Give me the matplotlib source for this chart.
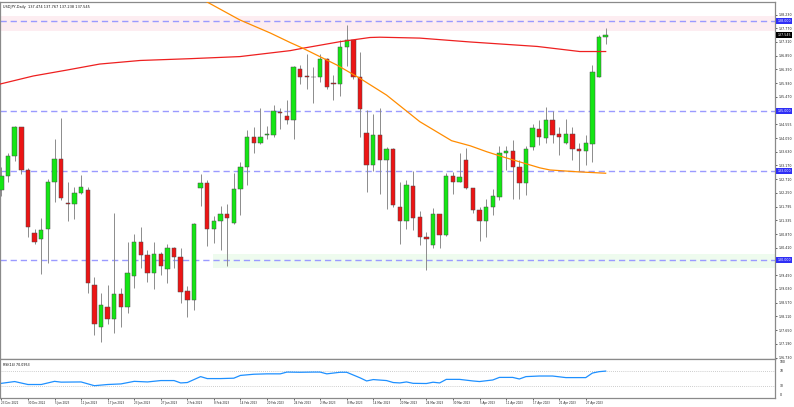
import numpy as np
import matplotlib
matplotlib.use('Agg')
import matplotlib.pyplot as plt
import matplotlib.transforms as mtrans

# daily bars, 23 Dec 2022 .. 2 May 2023
opens = [132.35, 132.83, 133.49, 134.45, 133.02, 130.92, 130.69, 131.03, 132.63, 133.39,
         131.90, 131.88, 132.24, 132.35, 129.16, 127.74, 128.43, 128.03, 128.86, 128.41,
         129.46, 130.59, 130.17, 129.57, 130.21, 129.69, 130.39, 130.09, 128.96, 128.66,
         132.43, 132.57, 131.03, 131.32, 131.54, 131.23, 132.37, 133.11, 134.14, 133.94,
         134.18, 134.19, 134.95, 134.83, 134.70, 136.40, 136.16, 136.15, 136.15, 136.73,
         135.95, 135.89, 137.14, 137.36, 136.13, 134.27, 133.17, 134.19, 133.36, 133.71,
         131.79, 131.32, 132.48, 131.43, 130.78, 130.50, 131.54, 130.84, 132.82, 132.63,
         133.36, 132.40, 131.68, 131.32, 131.77, 132.13, 133.58, 133.64, 133.13, 132.57,
         133.80, 134.38, 134.08, 134.68, 134.23, 133.94, 134.23, 133.71, 133.64, 133.89,
         136.13, 137.474]
highs = [133.13, 133.60, 134.50, 134.47, 133.08, 131.03, 131.40, 132.71, 134.05, 134.75,
         132.63, 132.46, 132.85, 132.46, 129.42, 128.88, 129.16, 131.57, 129.05, 130.62,
         130.89, 131.12, 130.34, 130.62, 130.26, 130.54, 130.45, 130.39, 129.13, 131.23,
         132.89, 132.68, 131.48, 131.81, 131.88, 132.91, 133.30, 134.36, 134.47, 135.09,
         134.49, 135.20, 135.09, 135.37, 136.49, 136.54, 136.91, 136.47, 136.91, 136.77,
         136.21, 137.36, 137.89, 137.38, 136.99, 135.03, 134.90, 135.09, 133.80, 133.75,
         132.63, 132.68, 133.00, 131.66, 130.95, 131.73, 131.55, 132.91, 132.96, 133.58,
         133.75, 132.42, 131.77, 132.04, 132.37, 133.83, 133.83, 134.03, 133.36, 133.83,
         134.56, 134.70, 135.12, 134.98, 134.47, 134.72, 134.47, 133.94, 134.19, 136.54,
         137.55, 137.767]
lows = [132.15, 132.63, 133.33, 132.89, 130.78, 130.55, 129.53, 129.91, 131.96, 132.01,
        131.32, 131.36, 132.21, 128.88, 127.48, 127.26, 127.87, 127.56, 127.76, 128.23,
        129.05, 129.72, 129.25, 129.03, 129.50, 129.22, 129.74, 128.55, 128.08, 128.32,
        131.81, 130.48, 130.58, 130.34, 129.80, 131.21, 131.51, 132.52, 133.58, 133.89,
        134.05, 134.14, 134.38, 134.56, 134.05, 135.91, 135.73, 135.26, 135.98, 135.73,
        135.35, 135.50, 136.49, 136.06, 134.12, 132.29, 133.00, 132.21, 131.70, 131.79,
        130.54, 131.03, 131.01, 130.50, 129.66, 130.39, 130.42, 130.82, 132.21, 132.60,
        132.37, 131.57, 130.65, 130.76, 131.51, 132.01, 133.02, 132.04, 132.04, 132.18,
        133.69, 133.86, 133.94, 133.91, 133.52, 133.89, 133.36, 133.00, 133.19, 133.30,
        136.13, 137.238]
closes = [132.82, 133.49, 134.45, 133.02, 131.10, 130.60, 131.01, 132.62, 133.39, 132.07,
          131.88, 132.24, 132.46, 129.24, 127.85, 128.49, 128.01, 128.86, 128.41, 129.57,
          130.59, 130.17, 129.57, 130.21, 129.81, 130.42, 130.09, 128.94, 128.66, 131.21,
          132.57, 131.03, 131.32, 131.54, 131.40, 132.37, 133.11, 134.14, 133.94, 134.14,
          134.22, 134.98, 134.92, 134.70, 136.47, 136.15, 136.15, 136.13, 136.73, 135.79,
          135.89, 137.14, 137.36, 136.13, 135.06, 133.17, 134.19, 133.36, 133.71, 131.85,
          131.32, 132.52, 131.40, 130.78, 130.70, 131.54, 130.84, 132.82, 132.63, 132.80,
          132.40, 131.68, 131.32, 131.77, 132.15, 133.58, 133.64, 133.13, 132.57, 133.71,
          134.42, 134.12, 134.70, 134.19, 134.12, 134.23, 133.71, 133.64, 133.91, 136.29,
          137.47, 137.545]

# moving averages (bar index, price)
ma_red_idx = [-0.2, 4.8, 9.9, 14.8, 20.9, 28.4, 35.9, 43.5, 45.4, 51, 55.5, 57, 63, 70.6, 80.7, 84.1, 87.1, 91]
ma_red_val = [135.90, 136.17, 136.37, 136.57, 136.69, 136.75, 136.82, 137.02, 137.10, 137.32,
              137.46, 137.47, 137.44, 137.31, 137.16, 137.07, 136.99, 136.99]
ma_org_idx = [28, 30.4, 35.9, 40.5, 43.5, 45.4, 50.5, 54, 58, 63, 67.8, 70.6, 73.1, 75.5, 81.1, 82.6, 86.6, 91]
ma_org_val = [139.0, 138.72, 138.05, 137.61, 137.29, 137.10, 136.54, 136.09, 135.53, 134.64,
              134.00, 133.83, 133.63, 133.46, 133.09, 133.02, 132.96, 132.91]

# RSI(14)
rsi_idx = [0, 2, 4, 6, 8, 9, 12, 14, 16, 18, 20, 22, 24, 26, 27, 28, 30, 31, 33, 35, 36, 38, 40,
           42, 43, 45, 47, 48, 49, 51, 52, 54, 55, 56, 58, 59, 60, 61, 62, 64, 65, 66, 67, 69,
           71, 72, 74, 75, 77, 78, 79, 81, 83, 85, 88, 89, 90, 91]
rsi_val = [38, 42.5, 35, 35, 43, 41, 41.5, 32, 35, 36.5, 43, 41.5, 45, 45, 39, 40, 55, 50, 50, 51,
           58, 61, 62, 62, 66.5, 66, 66.5, 66.5, 62, 66, 66, 52, 44, 47.5, 45, 40, 39, 41.5, 38,
           37.5, 40.8, 39, 48, 48, 44, 42.5, 46.5, 53, 53, 49, 55, 56.5, 56.5, 52.5, 52.5, 64,
           67.5, 69]

date_labels = ['23 Dec 2022', '30 Dec 2022', '5 Jan 2023', '11 Jan 2023', '17 Jan 2023',
               '23 Jan 2023', '27 Jan 2023', '2 Feb 2023', '8 Feb 2023', '14 Feb 2023',
               '20 Feb 2023', '24 Feb 2023', '2 Mar 2023', '8 Mar 2023', '14 Mar 2023',
               '20 Mar 2023', '24 Mar 2023', '30 Mar 2023', '5 Apr 2023', '11 Apr 2023',
               '17 Apr 2023', '21 Apr 2023', '27 Apr 2023']

price_ticks = [138.230, 137.770, 137.310, 136.850, 136.390, 135.930, 135.470, 134.555, 134.090,
               133.630, 133.170, 132.710, 132.250, 131.795, 131.335, 130.870, 130.410, 129.490,
               129.030, 128.570, 128.110, 127.650, 127.190, 126.730]
levels = [138.0, 135.0, 133.0, 130.0]

W, H = 794, 407
fig = plt.figure(figsize=(W / 100, H / 100), dpi=100)
fig.patch.set_facecolor('white')
ax = fig.add_axes([0, (H - 358.5) / H, 775 / W, (358.5 - 2) / H])
rx = fig.add_axes([0, (H - 397.7) / H, 775 / W, (397.7 - 359) / H])

xmin, xmax = -0.21, 116.5
frame = '#8a8a8a'

# zones
ax.axhspan(137.69, 138.19, color='#fdedf1', zorder=0, lw=0)
ax.fill_between([31.9, xmax], 129.73, 130.2, color='#eefbee', zorder=0, lw=0)
for lv in levels:
    ax.axhline(lv, color='#9a9aff', lw=1.0, ls=(0, (4.5, 2.8)), zorder=1)

# candles
n = len(opens)
idx = np.arange(n)
o = np.array(opens); c = np.array(closes)
up = c >= o
body_lo = np.minimum(o, c)
body_h = np.maximum(np.abs(c - o), 0.012)
ax.vlines(idx, lows, highs, color='#8c8c8c', lw=0.7, zorder=2)
ax.bar(idx, body_h, bottom=body_lo, width=0.66,
       color=np.where(up, '#14e614', '#ec1515'), edgecolor='#4a4a4a', linewidth=0.35, zorder=3)

ax.plot(ma_red_idx, ma_red_val, color='#ee2020', lw=0.9, zorder=4)
ax.plot(ma_org_idx, ma_org_val, color='#ff8c00', lw=0.9, zorder=4)

ax.set_xlim(xmin, xmax)
ax.set_ylim(126.70, 138.65)
ax.set_xticks([])
ax.yaxis.tick_right()
ax.set_yticks(price_ticks)
ax.set_yticklabels(['%.3f' % p for p in price_ticks])
ax.tick_params(axis='y', length=1.5, width=0.5, pad=0.8, labelsize=2.3, colors='#222222')
for s in ax.spines.values():
    s.set_color(frame)
    s.set_linewidth(0.9)

tr = mtrans.blended_transform_factory(ax.transAxes, ax.transData)
for lv in levels:
    ax.text(1.003, lv, '%.3f' % lv, transform=tr, fontsize=2.3, color='white', va='center', ha='left',
            bbox=dict(boxstyle='square,pad=0.3', fc='#2f2ff5', ec='none'), clip_on=False, zorder=6)
ax.text(1.003, closes[-1], '%.3f' % closes[-1], transform=tr, fontsize=2.3, color='white',
        va='center', ha='left', bbox=dict(boxstyle='square,pad=0.3', fc='black', ec='none'),
        clip_on=False, zorder=6)

ax.text(0.004, 0.992, 'USDJPY,Daily  %.3f %.3f %.3f %.3f' % (opens[-1], highs[-1], lows[-1], closes[-1]),
        transform=ax.transAxes, fontsize=2.5, va='top', ha='left', color='#111111')

# RSI panel
rx.axhline(70, color='#bdbdbd', lw=0.6, ls=(0, (1, 1.5)))
rx.axhline(30, color='#bdbdbd', lw=0.6, ls=(0, (1, 1.5)))
rx.plot(rsi_idx, rsi_val, color='#1e90ff', lw=0.9)
rx.set_xlim(xmin, xmax)
rx.set_ylim(1.6, 99.6)
rx.set_yticks([])
rx.set_xticks(np.arange(0, 89, 4))
rx.set_xticklabels(date_labels)
rx.tick_params(axis='x', length=1.5, width=0.5, pad=0.8, labelsize=2.0, colors='#222222')
for lbl in rx.get_xticklabels():
    lbl.set_ha('left')
for s in rx.spines.values():
    s.set_color(frame)
    s.set_linewidth(0.9)
rtr = mtrans.blended_transform_factory(rx.transAxes, rx.transData)
for val, txt in [(92.8, '100'), (70, '70'), (30, '30'), (9.2, '0')]:
    rx.text(1.006, val, txt, transform=rtr, fontsize=2.2, va='center', ha='left', clip_on=False)
rx.text(0.004, 0.9, 'RSI(14) 70.0953', transform=rx.transAxes, fontsize=2.3, va='top', ha='left')

fig.savefig('out.png', dpi=100, facecolor='white')
